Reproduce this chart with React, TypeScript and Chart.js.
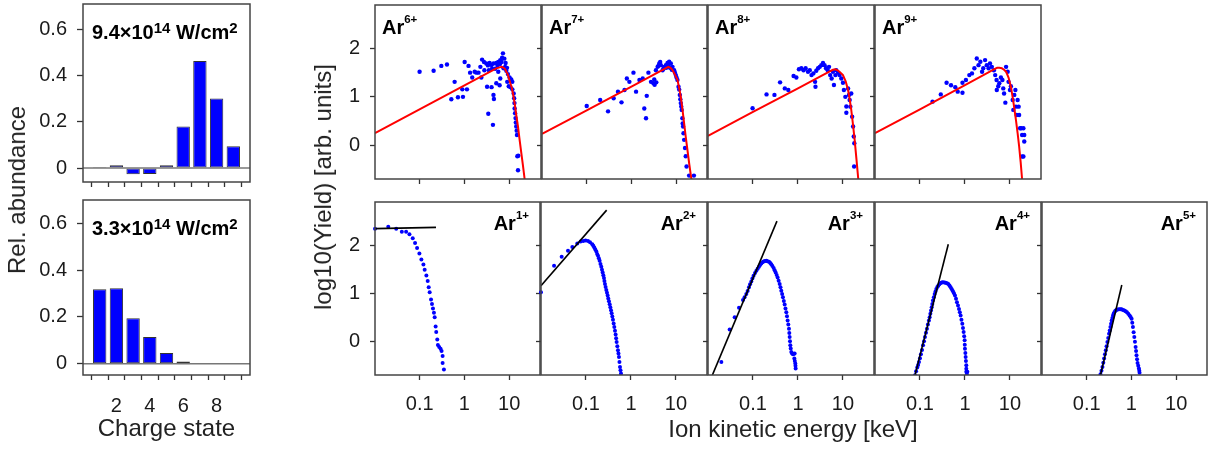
import React, { useEffect, useRef } from 'react';
import { Chart, registerables } from 'chart.js';

Chart.register(...registerables);

type Pt = [number, number];

// ---------------- data ----------------
const chargeStates = [1, 2, 3, 4, 5, 6, 7, 8, 9];
const chargeTickLabels = [2, 4, 6, 8];
const abundanceHigh = [0.005, 0.012, -0.027, -0.025, 0.012, 0.18, 0.462, 0.3, 0.094];
const abundanceLow = [0.319, 0.323, 0.195, 0.114, 0.046, 0.01, 0.002, 0.002, 0.001];
const abundanceTicks = [0, 0.2, 0.4, 0.6];
const energyTicks = [0.1, 1, 10];
const yieldTicks = [0, 1, 2];

const ar6Points: Pt[] = [
  [0.098, 1.52], [0.201, 1.54], [0.298, 1.64], [0.398, 1.67], [0.589, 1.31], [0.497, 0.95], [0.698, 0.99],
  [0.903, 1.0], [0.873, 1.155], [1.107, 1.155], [0.984, 1.72], [1.2, 1.64], [1.3, 1.5], [1.45, 1.4],
  [1.64, 1.52], [1.79, 1.5], [2.0, 1.5], [2.31, 1.4], [2.4, 1.77], [2.65, 1.72], [2.98, 1.69], [3.24, 1.65],
  [3.53, 1.7], [3.9, 1.66], [4.3, 1.69], [4.97, 1.7], [5.5, 1.72], [6.1, 1.76], [6.7, 1.81], [6.99, 1.9],
  [7.5, 1.79], [8.0, 1.7], [3.1, 1.21], [3.9, 1.2], [4.3, 1.04], [4.4, 0.955], [3.3, 0.65], [4.19, 0.42],
  [4.97, 1.28], [5.89, 1.24], [6.1, 1.38], [5.5, 1.52], [7.2, 1.59], [8.3, 1.54], [9.0, 1.47], [9.8, 1.4],
  [10.7, 1.36], [11.3, 1.31], [8.7, 1.31], [9.4, 1.22], [10.3, 1.2], [11.3, 1.155], [12.1, 1.07], [12.4, 0.97],
  [12.6, 0.87], [12.7, 0.76], [13.0, 0.66], [13.3, 0.56], [13.5, 0.47], [13.8, 0.385], [14.1, 0.3], [14.3, 0.21],
  [15.3, -0.22], [14.6, -0.23], [15.1, -0.52], [2.2, 1.62], [2.7, 1.55], [3.4, 1.55], [4.0, 1.58], [4.7, 1.58],
  [5.3, 1.65], [6.0, 1.68], [6.5, 1.72], [7.8, 1.62], [8.6, 1.6],
];
const ar6Fit: Pt[] = [
  [0.01, 0.25], [0.1, 0.744], [1, 1.242], [4.97, 1.588], [5.89, 1.61], [6.6, 1.62], [7.2, 1.6], [7.8, 1.575],
  [8.29, 1.52], [8.9, 1.47], [9.5, 1.38], [10.2, 1.28], [10.9, 1.2], [11.7, 1.06], [12.7, 0.87], [13.8, 0.625],
  [15.1, 0.385], [16.4, 0.11], [17.9, -0.165], [19.5, -0.43], [21.2, -0.7], [21.6, -0.76],
];

const ar7Points: Pt[] = [
  [0.1, 0.81], [0.2, 0.935], [0.3, 0.7], [0.4, 0.97], [0.5, 1.107], [0.6, 0.886], [0.7, 1.14], [0.79, 1.38],
  [0.9, 1.31], [1.11, 1.5], [1.27, 1.107], [1.51, 1.347], [1.94, 0.76], [2.12, 0.556], [2.2, 1.02], [2.4, 1.5],
  [1.79, 1.38], [2.74, 1.31], [3.1, 1.28], [3.24, 1.36], [3.53, 1.55], [3.85, 1.62], [4.19, 1.69], [4.56, 1.656],
  [4.97, 1.55], [5.41, 1.62], [5.89, 1.656], [6.41, 1.7], [6.99, 1.725], [7.61, 1.69], [8.29, 1.62], [9.03, 1.55],
  [9.84, 1.45], [10.7, 1.35], [11.3, 1.21], [12.1, 1.04], [12.7, 0.87], [13.3, 0.73], [13.8, 0.557], [14.3, 0.385],
  [14.6, 0.247], [15.1, 0.11], [15.8, -0.06], [16.4, -0.23], [17.1, -0.44], [19.5, -0.63], [25, -0.63],
  [3.3, 1.25], [3.6, 1.3], [4.0, 1.64], [4.4, 1.72], [5.2, 1.58], [6.0, 1.6], [6.7, 1.65], [7.3, 1.6],
  [8.0, 1.56], [9.4, 1.5], [10.2, 1.4], [11.7, 1.15], [13.0, 0.8], [14.0, 0.45], [12.4, 0.95],
];
const ar7Fit: Pt[] = [
  [0.01, 0.234], [0.1, 0.72], [1, 1.21], [5.0, 1.56], [6.0, 1.6], [6.7, 1.62], [7.5, 1.6], [8.29, 1.553],
  [9.4, 1.46], [10.7, 1.35], [11.7, 1.18], [12.7, 1.0], [13.8, 0.75], [15.1, 0.45], [16.4, 0.17], [17.9, -0.1],
  [19.7, -0.4], [21.9, -0.7], [22.5, -0.78],
];

const ar8Points: Pt[] = [
  [0.098, 0.763], [0.2, 1.05], [0.3, 1.04], [0.4, 1.3], [0.51, 1.175], [0.61, 1.14], [0.8, 1.43], [0.92, 1.4],
  [1.05, 1.57], [1.19, 1.59], [1.33, 1.55], [1.48, 1.59], [1.67, 1.52], [1.83, 1.55], [2.0, 1.45], [2.2, 1.485],
  [2.4, 1.31], [2.45, 1.21], [2.55, 1.54], [2.8, 1.59], [3.05, 1.62], [3.3, 1.656], [3.6, 1.7], [3.9, 1.656],
  [4.2, 1.59], [4.6, 1.55], [4.9, 1.62], [5.2, 1.45], [5.6, 1.38], [6.0, 1.52], [6.3, 1.244], [6.8, 1.45],
  [7.1, 1.55], [7.8, 1.5], [8.4, 1.45], [9.2, 1.38], [10.0, 1.29], [10.5, 1.14], [11.3, 1.0], [11.9, 0.8],
  [11.9, 0.67], [13.0, 1.175], [13.6, 1.04], [14.1, 0.935], [14.6, 0.797], [15.3, 1.07], [16.0, 0.59],
  [16.8, 0.385], [17.4, 0.18], [17.9, 0.04], [17.7, -0.44],
];
const ar8Fit: Pt[] = [
  [0.01, 0.19], [0.1, 0.687], [1, 1.175], [4.97, 1.52], [6.0, 1.56], [6.8, 1.57], [7.6, 1.55], [8.6, 1.51],
  [10.0, 1.45], [11.5, 1.32], [13.0, 1.14], [14.1, 0.95], [15.3, 0.73], [16.6, 0.45], [18.2, 0.11],
  [20.0, -0.3], [21.9, -0.7], [22.5, -0.78],
];

const ar9Points: Pt[] = [
  [0.19, 0.9], [0.29, 1.05], [0.39, 1.29], [0.49, 1.24], [0.61, 1.2], [0.69, 1.107], [0.88, 1.086], [0.88, 1.29],
  [1.05, 1.347], [1.25, 1.45], [1.43, 1.485], [1.62, 1.59], [1.83, 1.794], [2.0, 1.656], [2.2, 1.725], [2.4, 1.52],
  [2.55, 1.59], [2.8, 1.76], [3.05, 1.656], [3.35, 1.59], [3.6, 1.69], [3.95, 1.62], [4.4, 1.55], [4.7, 1.45],
  [5.05, 1.347], [5.1, 1.14], [5.5, 1.22], [5.8, 1.28], [6.3, 1.4], [6.8, 1.347], [7.1, 1.175], [7.4, 1.07],
  [7.9, 0.88], [8.2, 1.62], [8.9, 1.52], [9.3, 1.31], [10.0, 1.14], [10.5, 1.22], [11.5, 0.935], [11.9, 0.73],
  [12.5, 1.04], [13.2, 1.14], [13.6, 0.797], [14.1, 0.625], [14.8, 0.935], [15.6, 0.797], [16.0, 0.625],
  [16.8, 0.35], [17.7, 0.35], [18.6, 0.21], [19.9, 0.35], [20.8, 0.076], [18.6, -0.234], [19.9, -0.234], [20.8, 0.21],
];
const ar9Fit: Pt[] = [
  [0.01, 0.247], [0.1, 0.742], [1, 1.24], [4.4, 1.57], [5.2, 1.6], [5.8, 1.6], [6.6, 1.59], [7.4, 1.56],
  [8.2, 1.52], [9.3, 1.4], [10.5, 1.21], [11.9, 0.9], [13.6, 0.52], [14.8, 0.25], [16.0, -0.027],
  [17.3, -0.35], [18.6, -0.7], [19.1, -0.8],
];

const ar1Points: Pt[] = [
  [0.01, 2.345], [0.0198, 2.386], [0.0298, 2.345], [0.0398, 2.283], [0.0497, 2.283], [0.0589, 2.228],
  [0.0698, 2.145], [0.0787, 2.048], [0.0873, 1.945], [0.0984, 1.828], [0.109, 1.703], [0.121, 1.6],
  [0.129, 1.49], [0.141, 1.372], [0.151, 1.255], [0.159, 1.124], [0.167, 1.02], [0.179, 0.869], [0.188, 0.779],
  [0.198, 0.683], [0.208, 0.593], [0.216, 0.503], [0.227, 0.31], [0.234, 0.193], [0.247, 0.041],
  [0.255, -0.076], [0.273, -0.117], [0.293, -0.152], [0.308, -0.2], [0.325, -0.303], [0.325, -0.448], [0.348, -0.586],
];
const ar1Fit: Pt[] = [[0.01, 2.345], [0.231, 2.372]];

const ar2Points: Pt[] = [
  [0.01, 1.02], [0.0195, 1.572], [0.0288, 1.759], [0.0398, 1.883], [0.0497, 1.966], [0.0641, 2.034],
  [0.076, 2.076], [0.087, 2.09], [0.098, 2.1], [0.111, 2.09], [0.123, 2.062], [0.138, 2.02], [0.153, 1.952],
  [0.17, 1.869], [0.185, 1.779], [0.201, 1.676], [0.219, 1.552], [0.235, 1.434], [0.251, 1.317], [0.264, 1.193],
  [0.283, 1.069], [0.303, 0.952], [0.324, 0.834], [0.348, 0.71], [0.372, 0.586], [0.398, 0.448], [0.426, 0.297],
  [0.456, 0.145], [0.48, -0.014], [0.514, -0.186], [0.541, -0.324], [0.57, -0.531], [0.6, -0.669],
  [0.145, 1.99], [0.161, 1.91], [0.177, 1.82], [0.193, 1.73], [0.21, 1.61], [0.227, 1.49], [0.243, 1.375],
  [0.257, 1.255], [0.273, 1.13], [0.293, 1.01], [0.313, 0.893], [0.336, 0.772], [0.36, 0.648], [0.385, 0.517],
  [0.412, 0.372], [0.441, 0.221], [0.468, 0.065], [0.497, -0.1], [0.527, -0.255], [0.555, -0.43], [0.585, -0.6],
];
const ar2Fit: Pt[] = [[0.01, 1.159], [0.288, 2.731]];

const ar3Points: Pt[] = [
  [0.0198, -0.428], [0.0303, 0.248], [0.0392, 0.503], [0.0489, 0.697], [0.06, 0.862], [0.0711, 0.986],
  [0.0815, 1.124], [0.0918, 1.248], [0.103, 1.366], [0.119, 1.469], [0.136, 1.552], [0.153, 1.621],
  [0.173, 1.662], [0.198, 1.676], [0.227, 1.655], [0.255, 1.607], [0.288, 1.524], [0.319, 1.434], [0.353, 1.331],
  [0.392, 1.193], [0.426, 1.055], [0.464, 0.917], [0.506, 0.766], [0.551, 0.607], [0.589, 0.434], [0.631, 0.262],
  [0.653, 0.09], [0.676, -0.083], [0.711, -0.221], [0.775, -0.269], [0.844, -0.255], [0.83, -0.359],
  [0.873, -0.462], [0.888, -0.566],
  [0.24, 1.635], [0.27, 1.57], [0.303, 1.48], [0.336, 1.38], [0.372, 1.26], [0.409, 1.124], [0.445, 0.986],
  [0.485, 0.84], [0.528, 0.686], [0.57, 0.52], [0.61, 0.35], [0.642, 0.176], [0.665, 0.0], [0.69, -0.15],
  [0.74, -0.25], [0.81, -0.26], [0.85, -0.41], [0.88, -0.51],
  [0.065, 0.92], [0.076, 1.05], [0.086, 1.19], [0.097, 1.31], [0.111, 1.42], [0.127, 1.51], [0.144, 1.59],
  [0.163, 1.645], [0.185, 1.672], [0.21, 1.668],
];
const ar3Fit: Pt[] = [[0.0125, -0.703], [0.341, 2.503]];

const ar4Points: Pt[] = [
  [0.0774, -0.703], [0.087, -0.545], [0.095, -0.428], [0.105, -0.269], [0.117, -0.083], [0.129, 0.09],
  [0.143, 0.262], [0.158, 0.434], [0.17, 0.572], [0.182, 0.71], [0.194, 0.848], [0.212, 0.986], [0.231, 1.09],
  [0.255, 1.159], [0.288, 1.214], [0.324, 1.228], [0.372, 1.221], [0.426, 1.193], [0.48, 1.124], [0.541, 1.041],
  [0.6, 0.952], [0.664, 0.814], [0.736, 0.676], [0.801, 0.538], [0.873, 0.366], [0.934, 0.193], [0.984, 0.021],
  [1.0, -0.152], [1.035, -0.324], [1.07, -0.497], [1.07, -0.634], [1.13, -0.634],
  [0.082, -0.62], [0.091, -0.49], [0.1, -0.35], [0.111, -0.18], [0.123, 0.0], [0.136, 0.18], [0.15, 0.35],
  [0.164, 0.5], [0.176, 0.64], [0.188, 0.78], [0.203, 0.92], [0.221, 1.04], [0.243, 1.13], [0.27, 1.19],
  [0.305, 1.225], [0.347, 1.226], [0.398, 1.21], [0.452, 1.16], [0.51, 1.085], [0.57, 1.0], [0.632, 0.885],
  [0.7, 0.745], [0.768, 0.607], [0.836, 0.45], [0.903, 0.28], [0.96, 0.107], [0.99, -0.07], [1.02, -0.24],
  [1.05, -0.41], [1.07, -0.57], [1.1, -0.68],
];
const ar4Fit: Pt[] = [[0.0774, -0.703], [0.426, 2.02]];

const ar5Points: Pt[] = [
  [0.203, -0.683], [0.225, -0.531], [0.245, -0.359], [0.267, -0.186], [0.29, -0.014], [0.316, 0.159],
  [0.339, 0.297], [0.362, 0.434], [0.388, 0.538], [0.416, 0.607], [0.46, 0.655], [0.527, 0.669], [0.604, 0.669],
  [0.693, 0.641], [0.794, 0.607], [0.91, 0.538], [1.01, 0.469], [1.08, 0.297], [1.16, 0.09], [1.24, -0.117],
  [1.3, -0.29], [1.37, -0.448], [1.47, -0.566], [1.52, -0.655],
  [0.214, -0.61], [0.235, -0.445], [0.256, -0.27], [0.278, -0.1], [0.303, 0.07], [0.327, 0.228], [0.35, 0.365],
  [0.375, 0.486], [0.4, 0.573], [0.437, 0.635], [0.493, 0.665], [0.565, 0.67], [0.648, 0.655], [0.743, 0.625],
  [0.85, 0.575], [0.96, 0.505], [1.045, 0.385], [1.12, 0.19], [1.2, -0.01], [1.27, -0.2], [1.335, -0.37],
  [1.42, -0.51], [1.5, -0.61],
];
const ar5Fit: Pt[] = [[0.203, -0.703], [0.609, 1.172]];

// ---------------- layout & style ----------------
const FONT = "'Liberation Sans', Arial, Helvetica, sans-serif";
const BLUE = '#0000ff';
const FRAME = '#444';
const TICK = '#333';
const EDGE = 3;

type Seg = { t: string; sup?: boolean };

function drawRich(ctx: CanvasRenderingContext2D, segs: Seg[], x: number, y: number, align: 'left' | 'right',
  mainSize: number, supSize: number, raise: number) {
  const mainFont = `bold ${mainSize}px ${FONT}`;
  const supFont = `bold ${supSize}px ${FONT}`;
  let total = 0;
  for (const s of segs) {
    ctx.font = s.sup ? supFont : mainFont;
    total += ctx.measureText(s.t).width;
  }
  let cx = align === 'right' ? x - total : x;
  ctx.textAlign = 'left';
  ctx.textBaseline = 'alphabetic';
  ctx.fillStyle = '#000';
  for (const s of segs) {
    ctx.font = s.sup ? supFont : mainFont;
    ctx.fillText(s.t, cx, s.sup ? y - raise : y);
    cx += ctx.measureText(s.t).width;
  }
}

function makeFrame(o: { segs: Seg[]; align: 'left' | 'right'; dx: number; dy: number; main: number; sup: number; raise: number; zero?: boolean }) {
  return {
    id: 'frame',
    afterDatasetsDraw(chart: any) {
      const { ctx, chartArea: a } = chart;
      ctx.save();
      if (o.zero) {
        const y0 = chart.scales.y.getPixelForValue(0);
        ctx.strokeStyle = '#777';
        ctx.lineWidth = 1.5;
        ctx.beginPath();
        ctx.moveTo(a.left, y0);
        ctx.lineTo(a.right, y0);
        ctx.stroke();
      }
      ctx.strokeStyle = FRAME;
      ctx.lineWidth = 1.5;
      ctx.strokeRect(a.left, a.top, a.right - a.left, a.bottom - a.top);
      const x = o.align === 'left' ? a.left + o.dx : a.right - o.dx;
      drawRich(ctx, o.segs, x, a.top + o.dy, o.align, o.main, o.sup, o.raise);
      ctx.restore();
    },
  };
}

const fixWidth = (w: number) => (s: any) => {
  s.width = w; s.paddingTop = 0; s.paddingBottom = 0; s.paddingLeft = 0; s.paddingRight = 0;
};
const fixHeight = (h: number) => (s: any) => {
  s.height = h; s.paddingTop = 0; s.paddingBottom = 0; s.paddingLeft = 0; s.paddingRight = 0;
};

const tickFont = { family: FONT, size: 20 };
const gridCfg = (len: number) => ({ drawOnChartArea: false, drawTicks: true, tickLength: len, tickColor: TICK, tickWidth: 1.3 });

function barConfig(values: number[], showX: boolean, padL: number, padB: number, segs: Seg[], yMin: number, yMax: number) {
  return {
    type: 'bar',
    data: {
      datasets: [{
        data: chargeStates.map((c, i) => ({ x: c, y: values[i] })),
        backgroundColor: BLUE, borderColor: '#333', borderWidth: 1, borderSkipped: false,
        barPercentage: 0.8, categoryPercentage: 1,
      }],
    },
    options: {
      animation: false, responsive: false, events: [],
      layout: { padding: { left: 0, top: EDGE, right: EDGE, bottom: 0 } },
      plugins: { legend: { display: false }, tooltip: { enabled: false } },
      scales: {
        x: {
          type: 'linear', min: 0, max: 10, offset: false,
          afterBuildTicks: (s: any) => { s.ticks = chargeStates.map((v) => ({ value: v })); },
          ticks: {
            display: showX, autoSkip: false, maxRotation: 0, padding: 14, font: tickFont, color: '#1a1a1a',
            callback: (v: number) => (chargeTickLabels.includes(v) ? String(v) : ''),
          },
          grid: gridCfg(5), border: { display: false }, afterFit: fixHeight(padB),
        },
        y: {
          min: yMin, max: yMax,
          afterBuildTicks: (s: any) => { s.ticks = abundanceTicks.map((v) => ({ value: v })); },
          ticks: { padding: 10, font: tickFont, color: '#1a1a1a', callback: (v: number) => (v === 0 ? '0' : v.toFixed(1)) },
          grid: gridCfg(6), border: { display: false }, afterFit: fixWidth(padL),
        },
      },
    },
    plugins: [makeFrame({ segs, align: 'left', dx: 9, dy: 35, main: 20, sup: 15, raise: 6.5, zero: true })],
  };
}

function scatterConfig(p: { points: Pt[]; fit: Pt[]; fitColor: string; fitWidth: number; charge: string; top: boolean;
  showX: boolean; showY: boolean; padL: number; padB: number; radius: number }) {
  return {
    type: 'scatter',
    data: {
      datasets: [
        {
          data: p.fit.map(([x, y]) => ({ x, y })), showLine: true, borderColor: p.fitColor, borderWidth: p.fitWidth,
          pointRadius: 0, fill: false, tension: 0,
        },
        {
          data: p.points.map(([x, y]) => ({ x, y })), showLine: false, pointRadius: p.radius,
          backgroundColor: BLUE, borderColor: BLUE, borderWidth: 0,
          clip: { left: 3, top: 0, right: 0, bottom: 0 },
        },
      ],
    },
    options: {
      animation: false, responsive: false, events: [],
      layout: { padding: { left: 0, top: EDGE, right: EDGE, bottom: 0 } },
      plugins: { legend: { display: false }, tooltip: { enabled: false } },
      scales: {
        x: {
          type: 'logarithmic', min: 0.01, max: 49,
          afterBuildTicks: (s: any) => { s.ticks = energyTicks.map((v) => ({ value: v })); },
          ticks: {
            display: p.showX, autoSkip: false, maxRotation: 0, padding: 12, font: tickFont, color: '#1a1a1a',
            callback: (v: number) => (energyTicks.includes(v) ? String(v) : ''),
          },
          grid: gridCfg(5), border: { display: false }, afterFit: fixHeight(p.padB),
        },
        y: {
          type: 'linear', min: -0.7, max: 2.9,
          afterBuildTicks: (s: any) => { s.ticks = yieldTicks.map((v) => ({ value: v })); },
          ticks: { display: p.showY, padding: 10, font: tickFont, color: '#1a1a1a', callback: (v: number) => String(v) },
          grid: gridCfg(5), border: { display: false }, afterFit: fixWidth(p.padL),
        },
      },
    },
    plugins: [makeFrame({
      segs: [{ t: 'Ar' }, { t: p.charge, sup: true }],
      align: p.top ? 'left' : 'right', dx: p.top ? 7 : 11, dy: p.top ? 29 : 28, main: 20, sup: 11.5, raise: 11.5,
    })],
  };
}

function ChartBox({ area, padL, padB, config }: { area: number[]; padL: number; padB: number; config: () => any }) {
  const ref = useRef<HTMLCanvasElement | null>(null);
  const [x0, y0, x1, y1] = area;
  const w = x1 - x0 + padL + EDGE;
  const h = y1 - y0 + EDGE + padB;
  useEffect(() => {
    const chart = new Chart(ref.current as HTMLCanvasElement, config());
    return () => chart.destroy();
  }, []);
  return (
    <canvas ref={ref} width={w} height={h}
      style={{ position: 'absolute', left: x0 - padL, top: y0 - EDGE, width: w, height: h }} />
  );
}

const topRow = [
  { charge: '6+', points: ar6Points, fit: ar6Fit },
  { charge: '7+', points: ar7Points, fit: ar7Fit },
  { charge: '8+', points: ar8Points, fit: ar8Fit },
  { charge: '9+', points: ar9Points, fit: ar9Fit },
];
const bottomRow = [
  { charge: '1+', points: ar1Points, fit: ar1Fit },
  { charge: '2+', points: ar2Points, fit: ar2Fit },
  { charge: '3+', points: ar3Points, fit: ar3Fit },
  { charge: '4+', points: ar4Points, fit: ar4Fit },
  { charge: '5+', points: ar5Points, fit: ar5Fit },
];
const topEdges = [375, 542, 708, 875, 1042];
const bottomEdges = [375, 541, 708, 875, 1042, 1208];

const textStyle = (cx: number, cy: number, rotate: boolean): React.CSSProperties => ({
  position: 'absolute', left: cx, top: cy,
  transform: rotate ? 'translate(-50%,-50%) rotate(-90deg)' : 'translate(-50%,-50%)',
  fontFamily: FONT, fontSize: 24, lineHeight: 1, whiteSpace: 'nowrap', color: '#222',
});

export default function App() {
  return (
    <div style={{ position: 'absolute', left: 0, top: 0, width: 1211, height: 449, background: '#fff', overflow: 'hidden' }}>
      <ChartBox area={[83, 4, 250, 182]} padL={75} padB={8}
        config={() => barConfig(abundanceHigh, false, 75, 8,
          [{ t: '9.4×10' }, { t: '14', sup: true }, { t: ' W/cm' }, { t: '2', sup: true }], -0.06, 0.708)} />
      <ChartBox area={[83, 200, 250, 375]} padL={75} padB={50}
        config={() => barConfig(abundanceLow, true, 75, 50,
          [{ t: '3.3×10' }, { t: '14', sup: true }, { t: ' W/cm' }, { t: '2', sup: true }], -0.048, 0.7)} />
      {topRow.map((p, i) => (
        <ChartBox key={'t' + i} area={[topEdges[i], 4, topEdges[i + 1], 179]} padL={60} padB={8}
          config={() => scatterConfig({ ...p, fitColor: '#ff0000', fitWidth: 2, top: true, showX: false, showY: i === 0, padL: 60, padB: 8, radius: 2.2 })} />
      ))}
      {bottomRow.map((p, i) => (
        <ChartBox key={'b' + i} area={[bottomEdges[i], 201, bottomEdges[i + 1], 375]} padL={60} padB={50}
          config={() => scatterConfig({ ...p, fitColor: '#000000', fitWidth: 1.6, top: false, showX: true, showY: i === 0, padL: 60, padB: 50, radius: 2 })} />
      ))}
      <div style={textStyle(17, 190, true)}>Rel. abundance</div>
      <div style={textStyle(323, 187, true)}>log10(Yield) [arb. units]</div>
      <div style={textStyle(166.5, 428, false)}>Charge state</div>
      <div style={textStyle(793, 429, false)}>Ion kinetic energy [keV]</div>
    </div>
  );
}
